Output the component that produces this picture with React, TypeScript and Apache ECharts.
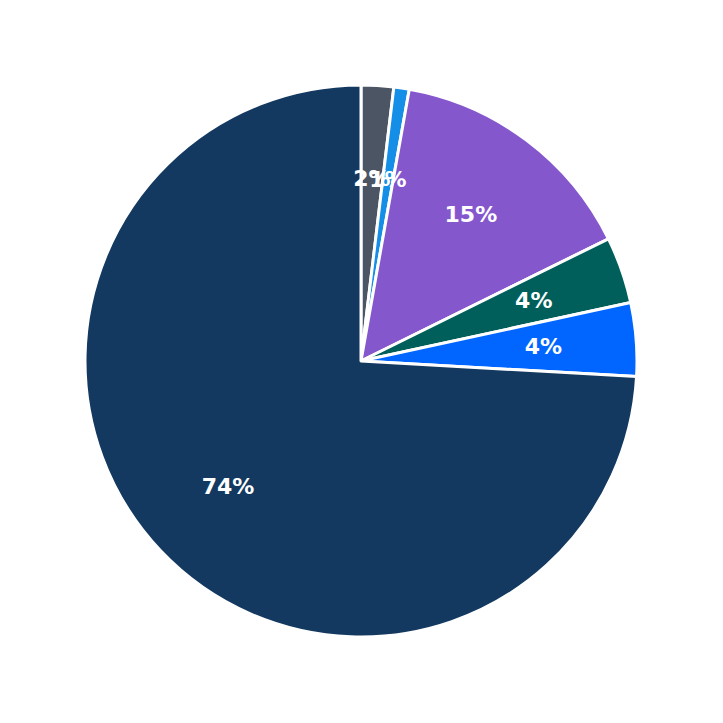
import React, { useRef, useEffect } from 'react';
import * as echarts from 'echarts';

const categories = ['A', 'B', 'C', 'D', 'E', 'F'];
const values = [1.9, 0.9, 14.9, 3.9, 4.3, 74.1];
const colors = ['#4b5563', '#148ee6', '#8557cd', '#005f5b', '#0066ff', '#133960'];

const App: React.FC = () => {
  const chartRef = useRef<HTMLDivElement>(null);

  useEffect(() => {
    if (!chartRef.current) return;
    const chart = echarts.init(chartRef.current, undefined, { renderer: 'svg' });
    const data = categories.map((name, i) => ({ name, value: values[i] }));
    chart.setOption({
      animation: false,
      series: [
        {
          type: 'pie',
          center: [361, 361],
          radius: [0, 276],
          startAngle: 90,
          clockwise: true,
          data: data.map((d, i) => ({ ...d, itemStyle: { color: colors[i] } })),
          itemStyle: { borderColor: '#ffffff', borderWidth: 3 },
          label: { show: false },
          labelLine: { show: false },
          silent: true,
        },
        {
          // transparent overlay so labels sit ~2/3 of the radius out
          type: 'pie',
          center: [361, 361],
          radius: [84, 276],
          startAngle: 90,
          clockwise: true,
          avoidLabelOverlap: false,
          labelLayout: { hideOverlap: false },
          data,
          itemStyle: { color: 'transparent' },
          label: {
            show: true,
            position: 'inside',
            formatter: (p: any) => Math.round(p.percent) + '%',
            color: '#ffffff',
            fontSize: 22,
            fontWeight: 'bold',
            fontFamily: 'DejaVu Sans',
          },
          labelLine: { show: false },
          silent: true,
        },
      ],
    });
    return () => chart.dispose();
  }, []);

  return (
    <div
      ref={chartRef}
      style={{ position: 'absolute', left: 0, top: 0, width: 723, height: 723, background: '#fff' }}
    />
  );
};

export default App;
